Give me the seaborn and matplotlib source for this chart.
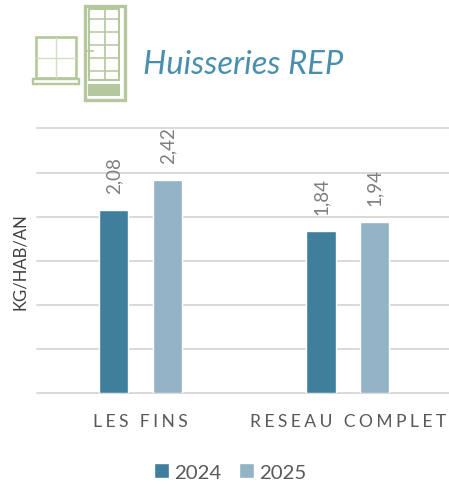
import pandas as pd
import matplotlib
matplotlib.use('Agg')
import matplotlib.pyplot as plt
from matplotlib.patches import Rectangle
import seaborn as sns

# thin + hair space between the letters, matplotlib has no letter spacing
GAP = '\u2009\u200a'

categories = ['LES FINS', 'RESEAU COMPLET']
years = ['2024', '2025']
values_2024 = [2.08, 1.84]
values_2025 = [2.42, 1.94]
y_ticks = [0, 0.5, 1, 1.5, 2, 2.5, 3]

colors = ['#3F7F9B', '#93B3C6']
grey_grid = '#D9D9D9'
icon_green = '#B5C79C'

W, H = 449, 489

sns.set_theme(style='white')
plt.rcParams['font.family'] = ['Lato', 'DejaVu Sans']

df = pd.DataFrame({
    'cat': categories * 2,
    'year': [years[0]] * 2 + [years[1]] * 2,
    'val': values_2024 + values_2025,
})

fig = plt.figure(figsize=(W / 100, H / 100), dpi=100)
ax = fig.add_axes([37 / W, 1 - 394 / H, 414.5 / W, 264.6 / H])

sns.barplot(data=df, x='cat', y='val', hue='year', palette=colors,
            width=0.519, gap=0.46, ax=ax, saturation=1)

for container in ax.containers:
    labels = [f'{b.get_height():.2f}'.replace('.', ',') for b in container]
    ax.bar_label(container, labels=labels, rotation=90, padding=12,
                 fontsize=13.5, color='#7F7F7F')

ax.set_xlim(-0.5, 1.5)
ax.set_ylim(0, 3)
ax.set_yticks(y_ticks)
ax.set_yticklabels([])
ax.grid(axis='y', color=grey_grid, lw=1.4, clip_on=False)
ax.set_axisbelow(True)
ax.tick_params(length=0)
sns.despine(ax=ax, left=True, top=True, right=True, bottom=True)

ax.set_xticks([0, 1])
ax.set_xticklabels([GAP.join(c) for c in categories], fontsize=12.6,
                   color='#595959')
ax.tick_params(axis='x', pad=14.5)
ax.set_xlabel('')
ax.set_ylabel('KG/HAB/AN', fontsize=12, color='#404040')
ax.yaxis.set_label_coords((28 - 37) / 414.5, 0.5)

handles, leg_labels = ax.get_legend_handles_labels()
ax.legend(handles, leg_labels, loc='center', ncol=2, frameon=False,
          bbox_to_anchor=(230 / W, 1 - 473 / H),
          bbox_transform=fig.transFigure,
          fontsize=14.7, labelcolor='#595959', handlelength=0.75,
          handleheight=0.75, handletextpad=0.25, columnspacing=0.85)

fig.text(143 / W, 1 - 73.5 / H, 'Huisseries REP', fontsize=23.6, style='italic',
         color='#4A90AE')

# window and door icon, drawn in pixel coordinates of the figure
icon = fig.add_axes([0, 0, 1, 1], zorder=5)
icon.set_xlim(0, W)
icon.set_ylim(H, 0)
icon.axis('off')


def box(x0, y0, x1, y1, lw=2.0, fill=False, color=icon_green):
    icon.add_patch(Rectangle((x0, y0), x1 - x0, y1 - y0, fill=fill,
                             ec=color, fc=color, lw=lw))


def line(x0, y0, x1, y1, lw=1.2, color=icon_green):
    icon.plot([x0, x1], [y0, y1], color=color, lw=lw, solid_capstyle='butt')


# door
box(84.5, 6.5, 124.5, 100.5, lw=2.4)
box(89, 10, 119, 81, lw=1.5)
for y in [20, 33, 46, 59, 72]:
    line(89, y, 119, y, lw=1.1)
line(104.5, 10, 104.5, 81, lw=1.2)
line(87, 52, 94, 52, lw=1.2)
box(88, 85, 120, 96.5, lw=0, fill=True)

# window
box(35.5, 38, 76, 79, lw=1.9)
line(55.5, 38, 55.5, 79, lw=1.0, color='#D3DEC4')
line(35.5, 59, 76, 59, lw=1.0, color='#D3DEC4')
box(33, 79.5, 78.5, 84.5, lw=1.7)

fig.savefig('out.png', dpi=100)
